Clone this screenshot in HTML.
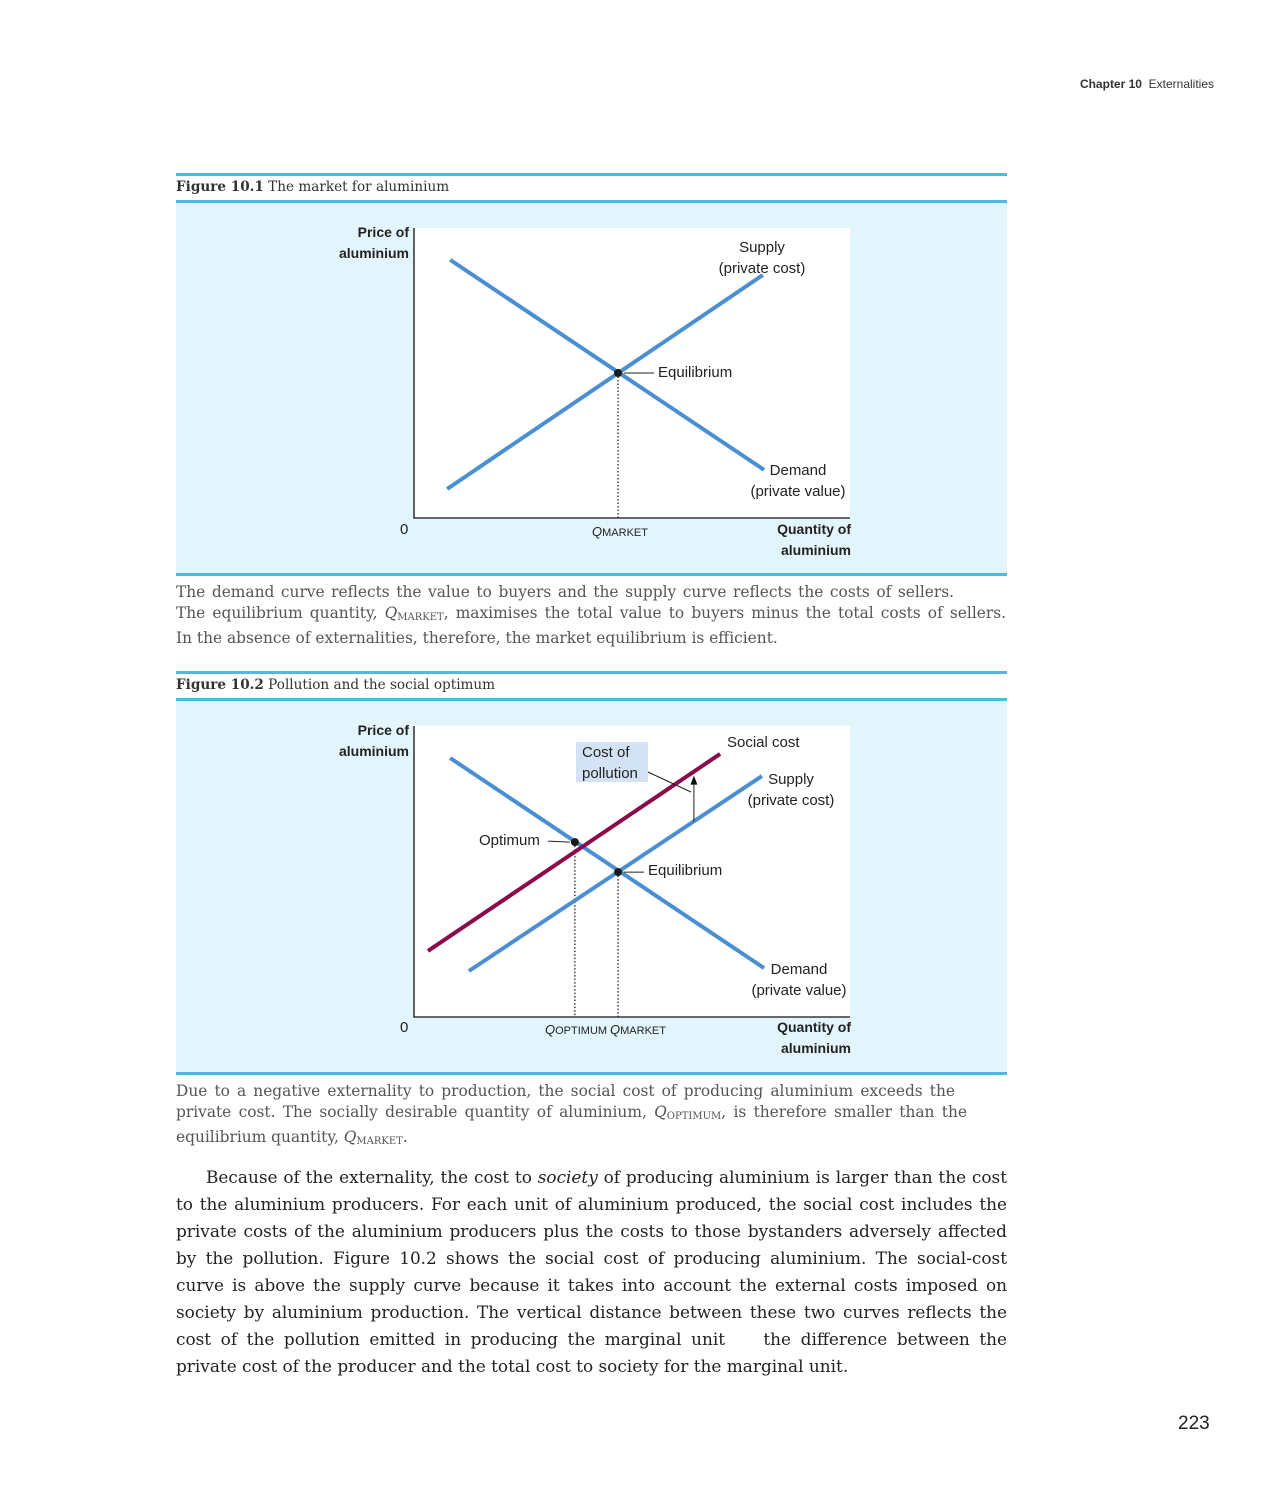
<!DOCTYPE html>
<html><head><meta charset="utf-8">
<style>
body{margin:0;width:1275px;height:1500px;background:#fff;position:relative;font-family:"Liberation Sans",sans-serif;overflow:hidden}
.a{position:absolute}
.hdr{top:77px;right:61px;font-size:12px;color:#333}
.rule{position:absolute;left:176px;width:831px;height:3px;background:#4fb8e3}
.ftitle{position:absolute;left:176px;font-family:"DejaVu Serif",serif;font-size:13.6px;color:#333}
.panel{position:absolute;left:176px;width:831px;background:#e3f5fc}
.plot{position:absolute;background:#fff}
.lab{position:absolute;font-size:15px;color:#222;line-height:21px}
.b{font-weight:bold;font-size:14px}
.cap{position:absolute;left:176px;font-family:"DejaVu Serif",serif;font-size:15.4px;color:#555;line-height:20.5px}
.cap div,.body div{white-space:nowrap;text-align:justify;text-align-last:justify}
.cap div.l,.body div.l{text-align-last:left}
.body{position:absolute;left:176px;width:831px;top:1164px;font-family:"DejaVu Serif",serif;font-size:16.9px;color:#222;line-height:27px}
sub{font-size:10px;vertical-align:-2px}
</style></head><body>
<div class="a hdr"><b>Chapter 10</b>&nbsp; Externalities</div>

<div class="rule" style="top:173px"></div>
<div class="ftitle" style="top:179px"><b>Figure 10.1</b> The market for aluminium</div>
<div class="rule" style="top:200px"></div>
<div class="panel" style="top:203px;height:370px"></div>
<div class="rule" style="top:573px"></div>
<div class="plot" style="left:414px;top:228px;width:436px;height:290px"></div>

<div class="lab b" style="left:300px;top:222px;width:109px;text-align:right">Price of<br>aluminium</div>
<div class="lab" style="left:400px;top:519px">0</div>
<div class="lab" style="left:592px;top:521px;font-size:13px"><i>Q</i><span style="font-size:11px">MARKET</span></div>
<div class="lab b" style="left:740px;top:519px;width:111px;text-align:right">Quantity of<br>aluminium</div>
<div class="lab" style="left:700px;top:237px;width:124px;text-align:center">Supply<br>(private cost)</div>
<div class="lab" style="left:658px;top:362px">Equilibrium</div>
<div class="lab" style="left:742px;top:460px;width:112px;text-align:center">Demand<br>(private value)</div>

<div class="cap" style="top:582px">
<div style="width:778px">The demand curve reflects the value to buyers and the supply curve reflects the costs of sellers.</div>
<div style="width:830px">The equilibrium quantity, <i>Q</i><sub>MARKET</sub>, maximises the total value to buyers minus the total costs of sellers.</div>
<div class="l">In the absence of externalities, therefore, the market equilibrium is efficient.</div></div>

<div class="rule" style="top:671px"></div>
<div class="ftitle" style="top:677px"><b>Figure 10.2</b> Pollution and the social optimum</div>
<div class="rule" style="top:698px"></div>
<div class="panel" style="top:701px;height:371px"></div>
<div class="rule" style="top:1072px"></div>
<div class="plot" style="left:414px;top:726px;width:436px;height:291px"></div>
<div class="a" style="left:576px;top:742px;width:72px;height:40px;background:#d3e3f5"></div>

<div class="lab b" style="left:300px;top:720px;width:109px;text-align:right">Price of<br>aluminium</div>
<div class="lab" style="left:400px;top:1017px">0</div>
<div class="lab" style="left:545px;top:1019px;font-size:13px"><i>Q</i><span style="font-size:11px">OPTIMUM</span></div>
<div class="lab" style="left:610px;top:1019px;font-size:13px"><i>Q</i><span style="font-size:11px">MARKET</span></div>
<div class="lab b" style="left:740px;top:1017px;width:111px;text-align:right">Quantity of<br>aluminium</div>
<div class="lab" style="left:727px;top:732px">Social cost</div>
<div class="lab" style="left:582px;top:742px">Cost of<br>pollution</div>
<div class="lab" style="left:738px;top:769px;width:106px;text-align:center">Supply<br>(private cost)</div>
<div class="lab" style="left:479px;top:830px">Optimum</div>
<div class="lab" style="left:648px;top:860px">Equilibrium</div>
<div class="lab" style="left:743px;top:959px;width:112px;text-align:center">Demand<br>(private value)</div>

<div class="cap" style="top:1081px">
<div style="width:779px">Due to a negative externality to production, the social cost of producing aluminium exceeds the</div>
<div style="width:791px">private cost. The socially desirable quantity of aluminium, <i>Q</i><sub>OPTIMUM</sub>, is therefore smaller than the</div>
<div class="l">equilibrium quantity, <i>Q</i><sub>MARKET</sub>.</div></div>

<div class="body">
<div style="padding-left:30px">Because of the externality, the cost to <i>society</i> of producing aluminium is larger than the cost</div>
<div>to the aluminium producers. For each unit of aluminium produced, the social cost includes the</div>
<div>private costs of the aluminium producers plus the costs to those bystanders adversely affected</div>
<div>by the pollution. Figure 10.2 shows the social cost of producing aluminium. The social-cost</div>
<div>curve is above the supply curve because it takes into account the external costs imposed on</div>
<div>society by aluminium production. The vertical distance between these two curves reflects the</div>
<div>cost of the pollution emitted in producing the marginal unit &nbsp;&nbsp; the difference between the</div>
<div class="l">private cost of the producer and the total cost to society for the marginal unit.</div></div>
<div class="a" style="left:1178px;top:1413px;font-size:19px;color:#222">223</div>

<svg id="svg" class="a" style="left:0;top:0" width="1275" height="1500"></svg>

<script>
// Figure 10.1 data (quantity 0-100, price 0-100)
const f1Demand = [[8.3, 89], [80.3, 16.6]];
const f1Supply = [[7.6, 10], [80, 83.8]];
const f1Equilibrium = [46.8, 50];
// Figure 10.2 data
const f2Demand = [[8.3, 89], [80.3, 16.8]];
const f2Supply = [[12.6, 15.8], [79.8, 82.8]];
const f2Social = [[3.2, 22.7], [70.2, 90.4]];
const f2Optimum = [36.9, 60.1];
const f2Equilibrium = [46.8, 49.8];
const f2ArrowQ = 64.2;

const NS = 'http://www.w3.org/2000/svg';
const svg = document.getElementById('svg');
function axes(left, bottom, w, h) {
  return {x: v => left + v / 100 * w, y: v => bottom - v / 100 * h, left, bottom, top: bottom - h};
}
const A1 = axes(414, 518, 436, 290);
const A2 = axes(414, 1017, 436, 291);
function el(tag, attrs) {
  const e = document.createElementNS(NS, tag);
  for (const k in attrs) e.setAttribute(k, attrs[k]);
  svg.appendChild(e);
  return e;
}
function line(A, pts, color, w, name) {
  const e = el('line', {x1: A.x(pts[0][0]), y1: A.y(pts[0][1]), x2: A.x(pts[1][0]), y2: A.y(pts[1][1]), stroke: color, 'stroke-width': w});
  
  
}
function axisLines(A, n) {
  const e = el('path', {d: `M${A.left} ${A.top}V${A.bottom}H${A.x(100)}`, stroke: '#111', 'stroke-width': 1.3, fill: 'none'});
  
  
}
function dropLine(A, p, name) {
  const e = el('line', {x1: A.x(p[0]), y1: A.y(p[1]), x2: A.x(p[0]), y2: A.bottom, stroke: '#222', 'stroke-width': 1.3, 'stroke-dasharray': '1.5 2'});
  
  
}
function dot(A, p, name) {
  const e = el('circle', {cx: A.x(p[0]), cy: A.y(p[1]), r: 4, fill: '#1a1a1a'});
  
  
}
function leader(x1, y1, x2, y2, name) {
  const e = el('line', {x1, y1, x2, y2, stroke: '#222', 'stroke-width': 1});
  
  
}
const BLUE = '#4a8fd1', RED = '#8c0a4a';
axisLines(A1, 'figure1');
dropLine(A1, f1Equilibrium, 'figure1-qmarket-dropline');
line(A1, f1Demand, BLUE, 4, 'figure1-demand-curve');
line(A1, f1Supply, BLUE, 4, 'figure1-supply-curve');
dot(A1, f1Equilibrium, 'figure1-equilibrium-point');
leader(A1.x(f1Equilibrium[0]) + 6, A1.y(f1Equilibrium[1]), 654, A1.y(f1Equilibrium[1]), 'figure1-equilibrium-leader');
axisLines(A2, 'figure2');
dropLine(A2, f2Optimum, 'qoptimum-dropline');
dropLine(A2, f2Equilibrium, 'figure2-qmarket-dropline');
line(A2, f2Demand, BLUE, 4, 'figure2-demand-curve');
line(A2, f2Supply, BLUE, 4, 'figure2-supply-curve');
line(A2, f2Social, RED, 4, 'social-cost-curve');
dot(A2, f2Optimum, 'optimum-point');
dot(A2, f2Equilibrium, 'figure2-equilibrium-point');
leader(548, A2.y(f2Optimum[1]) - 1, A2.x(f2Optimum[0]) - 5, A2.y(f2Optimum[1]), 'optimum-leader');
leader(A2.x(f2Equilibrium[0]) + 6, A2.y(f2Equilibrium[1]), 644, A2.y(f2Equilibrium[1]), 'figure2-equilibrium-leader');
function yOn(seg, q) { const [[x1,y1],[x2,y2]] = seg; return y1 + (y2 - y1) * (q - x1) / (x2 - x1); }
const ax = A2.x(f2ArrowQ);
const yBot = A2.y(yOn(f2Supply, f2ArrowQ)), yTop = A2.y(yOn(f2Social, f2ArrowQ)) + 6;
leader(ax, yBot, ax, yTop + 4, 'pollution-arrow-shaft');
const ah = el('path', {d: `M${ax} ${yTop - 2}l-3.5 9h7z`, fill: '#111'});


leader(648, 772, ax - 3, 792, 'cost-of-pollution-leader');
</script>
</body></html>
